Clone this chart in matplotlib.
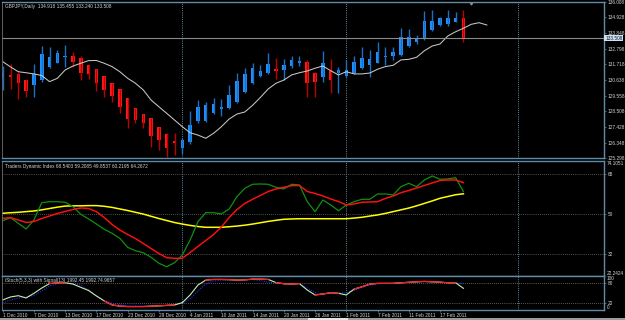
import matplotlib
matplotlib.use("Agg")
import matplotlib.pyplot as plt
from matplotlib.patches import Rectangle
from matplotlib.transforms import blended_transform_factory


# GBPJPY Daily, 1 Dec 2010 - 22 Feb 2011 (bar index 0..59)
opens = [130.83, 130.99, 131.06, 130.64, 130.30, 130.64, 131.52, 131.83, 132.20, 132.29,
         132.13, 131.64, 131.38, 130.90, 130.42, 130.00, 129.38, 128.74, 128.30, 128.01,
         127.43, 126.94, 126.46, 125.96, 126.42, 127.86, 127.86, 128.36, 128.66, 128.70,
         129.16, 129.84, 130.46, 130.92, 131.10, 131.42, 131.33, 131.60, 131.79, 131.90,
         131.14, 130.87, 131.28, 131.14, 130.92, 131.14, 131.45, 131.67, 131.83, 132.20,
         132.29, 132.36, 132.97, 133.27, 133.43, 134.07, 134.41, 134.46, 134.64, 134.918]
highs = [131.60, 131.74, 131.21, 130.69, 131.74, 132.97, 132.93, 132.70, 133.04, 132.58,
         132.29, 131.67, 131.40, 130.92, 130.46, 130.01, 129.39, 128.75, 128.31, 128.02,
         127.44, 127.03, 127.03, 126.65, 128.54, 129.27, 129.16, 129.39, 129.32, 130.30,
         131.10, 131.45, 131.83, 131.67, 132.47, 132.13, 132.06, 132.29, 132.29, 132.02,
         131.21, 132.65, 132.06, 131.56, 132.02, 132.29, 132.89, 132.70, 133.23, 132.89,
         132.93, 134.19, 134.12, 133.73, 135.39, 135.44, 134.94, 135.44, 135.28, 135.455]
lows = [129.96, 130.01, 129.34, 129.50, 129.46, 130.53, 131.45, 131.79, 131.56, 131.56,
        130.64, 130.71, 129.91, 129.50, 129.16, 128.36, 127.38, 127.72, 127.33, 126.07,
        125.85, 125.39, 125.50, 125.57, 126.26, 127.68, 127.79, 128.31, 128.18, 128.64,
        129.09, 129.77, 130.37, 130.87, 131.06, 130.69, 130.64, 131.45, 131.60, 129.50,
        129.46, 130.53, 129.73, 129.77, 130.83, 131.06, 131.38, 130.83, 131.79, 131.67,
        132.02, 132.29, 132.93, 133.11, 133.39, 134.02, 134.35, 134.35, 134.60, 133.240]
closes = [131.14, 130.83, 130.42, 129.91, 131.06, 132.41, 132.20, 132.52, 132.29, 131.88,
          131.14, 131.06, 130.42, 129.96, 129.55, 128.77, 127.97, 127.90, 127.68, 126.81,
          126.53, 125.96, 126.35, 126.53, 127.56, 128.77, 128.93, 129.00, 128.81, 129.62,
          130.58, 131.04, 131.45, 131.28, 131.72, 131.28, 131.67, 132.02, 131.95, 130.46,
          130.53, 131.83, 130.64, 131.33, 131.33, 131.90, 132.13, 132.06, 132.54, 132.29,
          132.54, 133.57, 133.57, 133.50, 134.71, 134.71, 134.87, 134.87, 134.87, 133.508]

# moving average, shifted 3 bars ahead (bars 0..62)
ma = [131.90, 131.54, 131.21, 131.14, 131.06, 130.95, 130.53, 130.76, 131.33, 131.60,
      131.79, 131.97, 131.98, 131.79, 131.56, 131.21, 130.76, 130.42, 129.96, 129.27,
      128.81, 128.36, 127.90, 127.44, 127.03, 126.87, 126.65, 126.99, 127.44, 127.97,
      128.31, 128.45, 128.91, 129.45, 130.03, 130.42, 130.64, 130.99, 131.14, 131.26,
      131.45, 131.60, 131.28, 130.99, 131.21, 131.06, 131.06, 131.12, 131.38, 131.56,
      131.65, 132.02, 132.06, 132.20, 132.65, 132.97, 133.11, 133.66, 133.95, 134.19,
      134.46, 134.57, 134.41]

bid = 133.508
price_ticks = [125.298, 126.348, 127.428, 128.508, 129.558, 130.638,
               131.718, 132.798, 133.848, 134.928, 136.008]
marker_bar = 60
marker_price = 135.92

# Traders Dynamic Index
tdi_green = [47.12, 48.47, 45.95, 43.39, 47.44, 55.22, 55.67, 55.67, 55.40, 53.42,
             50.00, 47.89, 45.64, 43.25, 41.45, 39.20, 35.15, 33.62, 32.72, 30.65,
             27.95, 26.42, 28.22, 31.69, 38.44, 46.67, 50.72, 50.72, 50.14, 52.39,
             57.92, 61.70, 63.50, 63.64, 63.50, 62.15, 61.39, 63.50, 63.19, 55.67,
             51.17, 56.44, 54.19, 51.62, 54.19, 55.67, 56.75, 56.75, 59.14, 59.14,
             58.69, 62.42, 63.95, 62.42, 65.44, 67.24, 65.75, 65.89, 66.47, 60.22]
tdi_red = [48.20, 48.47, 47.44, 46.31, 46.76, 48.11, 49.24, 50.36, 51.26, 52.16,
           52.84, 52.61, 51.17, 48.56, 45.41, 42.94, 40.91, 39.11, 36.86, 34.61,
           32.36, 30.47, 30.20, 30.20, 32.81, 35.51, 38.21, 40.91, 44.29, 48.56,
           52.16, 54.86, 56.75, 58.46, 60.26, 61.39, 62.15, 62.87, 62.96, 60.26,
           59.36, 58.24, 56.89, 55.76, 54.19, 54.64, 55.40, 55.54, 55.67, 57.11,
           58.24, 59.72, 60.71, 61.84, 62.96, 64.09, 65.21, 65.44, 65.44, 64.27]
tdi_yellow = [50.45, 50.70, 50.90, 51.20, 51.50, 52.00, 52.60, 53.20, 53.70, 53.80,
              53.80, 53.90, 53.90, 53.60, 53.10, 52.40, 51.70, 50.90, 50.10, 49.10,
              48.10, 47.20, 46.30, 45.60, 45.00, 44.50, 44.15, 44.15, 44.15, 44.40,
              44.70, 45.10, 45.60, 46.20, 46.80, 47.30, 47.75, 47.90, 48.00, 48.00,
              48.00, 48.00, 48.00, 48.00, 48.00, 48.30, 48.65, 49.20, 49.70, 50.40,
              51.20, 52.00, 52.80, 53.80, 54.90, 56.00, 57.20, 58.00, 58.80, 59.21]
tdi_levels = [68, 50, 32]
tdi_min = 22.2424
tdi_max = 74.1051

# Stochastic
stoch_main = [29.6, 38.3, 42.1, 35.4, 49.1, 64.6, 77.7, 80.0, 80.0, 76.2,
              66.6, 57.3, 41.3, 26.7, 15.0, 11.3, 10.1, 10.1, 10.1, 11.3,
              12.1, 13.6, 15.0, 21.7, 44.2, 73.3, 87.9, 89.9, 89.9, 89.3,
              87.9, 88.7, 90.8, 90.8, 89.9, 80.6, 77.1, 76.2, 77.7, 58.7,
              44.2, 47.1, 50.9, 49.1, 44.2, 61.6, 68.3, 76.2, 78.3, 78.3,
              78.3, 80.0, 81.5, 82.9, 84.1, 82.9, 82.0, 80.0, 80.0, 63.7]
stoch_signal = [20.9, 29.6, 34.6, 38.3, 42.7, 55.8, 70.4, 77.7, 80.0, 77.7,
                73.3, 58.7, 41.3, 28.1, 20.0, 15.0, 12.1, 12.1, 12.1, 12.1,
                12.1, 12.1, 13.6, 20.0, 32.5, 55.8, 76.2, 85.0, 87.9, 87.9,
                87.9, 87.9, 89.3, 86.4, 82.0, 78.3, 78.3, 78.3, 76.2, 64.6,
                50.9, 47.1, 48.5, 50.0, 50.9, 57.3, 66.0, 73.3, 76.2, 78.3,
                79.1, 80.0, 81.5, 82.9, 82.9, 82.9, 82.0, 80.6, 80.0, 77.7]
red_start = [6, 13, 26, 35, 40, 45]
red_end = [8, 22, 34, 38, 43, 58]
stoch_levels = [80, 20]

date_bars = [0, 4, 8, 12, 16, 20, 24, 28, 32, 36, 40, 44, 48, 52, 56]
date_labels = ["1 Dec 2010", "7 Dec 2010", "13 Dec 2010", "17 Dec 2010", "23 Dec 2010",
               "29 Dec 2010", "4 Jan 2011", "10 Jan 2011", "14 Jan 2011", "20 Jan 2011",
               "26 Jan 2011", "1 Feb 2011", "7 Feb 2011", "11 Feb 2011", "17 Feb 2011"]
separator_bars = [23, 44, 66]

price_title = "GBPJPY,Daily  134.918 135.455 133.240 133.508"
tdi_title = "Traders Dynamic Index 68.5403 59.2085 49.8537 60.2195 64.2672"
stoch_title = "iStoch(5,3,3) with Signal(13) 1992.45 1992.74.9657"

FRAME = "#5f8ca8"
TXT = "#d4d4d4"
FS = 3.4
plt.rcParams["font.family"] = ["Liberation Sans", "DejaVu Sans"]

fig = plt.figure(figsize=(6.25, 3.2), dpi=100, facecolor="black")
W, H = 625.0, 320.0
x0, x1 = 2.0, 604.0
ax_p = fig.add_axes([x0 / W, 1 - 158 / H, (x1 - x0) / W, 156.3 / H])
ax_t = fig.add_axes([x0 / W, 1 - 276 / H, (x1 - x0) / W, 115.3 / H])
ax_s = fig.add_axes([x0 / W, 1 - 310 / H, (x1 - x0) / W, 34 / H])

for ax in (ax_p, ax_t, ax_s):
    ax.set_facecolor("black")
    ax.set_xlim(-0.09, 77.0)
    for sp in ax.spines.values():
        sp.set_color(FRAME)
        sp.set_linewidth(1.0)
    ax.spines["left"].set_color("#707070")
    ax.spines["left"].set_linewidth(0.6)
    ax.yaxis.tick_right()
    ax.tick_params(axis="y", direction="out", length=1.5, width=0.5, colors=FRAME,
                   labelcolor=TXT, labelsize=FS, pad=1)
    for b in separator_bars:
        ax.axvline(b, color="#7fb2d0", lw=0.6, linestyle=(0, (1, 1.6)))

# --- price ---
for i in range(len(opens)):
    up = closes[i] >= opens[i]
    body_c = "#1e90ff" if up else "#ff1a1a"
    wick_c = "#1b6fc4" if up else "#c00000"
    ax_p.vlines(i, lows[i], highs[i], color=wick_c, lw=1.0)
    lo = min(opens[i], closes[i])
    hgt = max(abs(closes[i] - opens[i]), 0.05)
    ax_p.bar(i, hgt, bottom=lo, width=0.45, color=body_c, linewidth=0)
ax_p.plot(range(len(ma)), ma, color="#c8c8c8", lw=0.75)
ax_p.axhline(bid, color="#8a8a8a", lw=0.8)
ax_p.plot(marker_bar, marker_price, marker="v", color="#909090", markersize=2.2)
ax_p.set_ylim(price_ticks[0], price_ticks[-1])
ax_p.set_yticks(price_ticks)
ax_p.set_yticklabels([f"{v:.3f}" for v in price_ticks])
ax_p.set_xticks([])
tr = blended_transform_factory(ax_p.transAxes, ax_p.transData)
ax_p.text(1.002, bid, f"{bid:.3f}", transform=tr, fontsize=FS, color="#101040",
          va="center", ha="left",
          bbox=dict(boxstyle="square,pad=0.15", fc="#cfe2ef", ec="none"))
ax_p.text(0.005, 0.985, price_title, transform=ax_p.transAxes, fontsize=FS, color=TXT,
          va="top", ha="left")

# --- TDI ---
xs = range(len(tdi_green))
for lv in tdi_levels:
    ax_t.axhline(lv, color="#9a9a9a", lw=0.5, linestyle=(0, (1, 2)))
ax_t.plot(xs, tdi_yellow, color="#ffff00", lw=1.1)
ax_t.plot(xs, tdi_green, color="#109010", lw=0.9)
ax_t.plot(xs, tdi_red, color="#ff1010", lw=1.05)
ax_t.set_ylim(tdi_min, tdi_max)
ax_t.set_yticks(tdi_levels)
ax_t.set_yticklabels([str(v) for v in tdi_levels])
ax_t.set_xticks([])
tr = blended_transform_factory(ax_t.transAxes, ax_t.transData)
ax_t.text(1.004, tdi_max, f"{tdi_max:.4f}", transform=tr, fontsize=FS, color=TXT,
          va="top", ha="left")
ax_t.text(1.004, tdi_min, f"{tdi_min:.4f}", transform=tr, fontsize=FS, color=TXT,
          va="bottom", ha="left")
ax_t.text(0.005, 0.975, tdi_title, transform=ax_t.transAxes, fontsize=FS, color=TXT,
          va="top", ha="left")

# --- stochastic ---
xs = range(len(stoch_main))
for lv in stoch_levels:
    ax_s.axhline(lv, color="#b0b0b0", lw=0.5, linestyle=(0, (1, 2)))
ax_s.plot(xs, stoch_signal, color="#2a2aff", lw=0.8, linestyle=(0, (1, 1.2)))
ax_s.plot(xs, stoch_main, color="#c6f0a8", lw=0.8)
for a, b in zip(red_start, red_end):
    ax_s.plot(range(a, b + 1), stoch_main[a:b + 1], color="#ff1a1a", lw=0.9)
ax_s.set_ylim(0, 100)
ax_s.set_yticks(stoch_levels)
ax_s.set_yticklabels([str(v) for v in stoch_levels])
tr = blended_transform_factory(ax_s.transAxes, ax_s.transData)
ax_s.text(1.004, 100, "100", transform=tr, fontsize=FS, color=TXT, va="top", ha="left")
ax_s.text(1.004, 0, "0", transform=tr, fontsize=FS, color=TXT, va="bottom", ha="left")
ax_s.text(0.005, 0.93, stoch_title, transform=ax_s.transAxes, fontsize=FS, color=TXT,
          va="top", ha="left")
ax_s.set_xticks(date_bars)
ax_s.set_xticklabels(date_labels, ha="left")
ax_s.tick_params(axis="x", direction="out", length=1.5, width=0.5, colors=FRAME,
                 labelcolor=TXT, labelsize=FS, pad=1)

# terminal tab strip at the very bottom
fig.patches.append(Rectangle((0, 0), 1, 2.2 / H, transform=fig.transFigure,
                             facecolor="#9c9c9c", edgecolor="none"))
fig.patches.append(Rectangle((308 / W, 0), 40 / W, 2.2 / H, transform=fig.transFigure,
                             facecolor="#e4e4e4", edgecolor="none"))

fig.savefig("out.png", dpi=100, facecolor="black")
